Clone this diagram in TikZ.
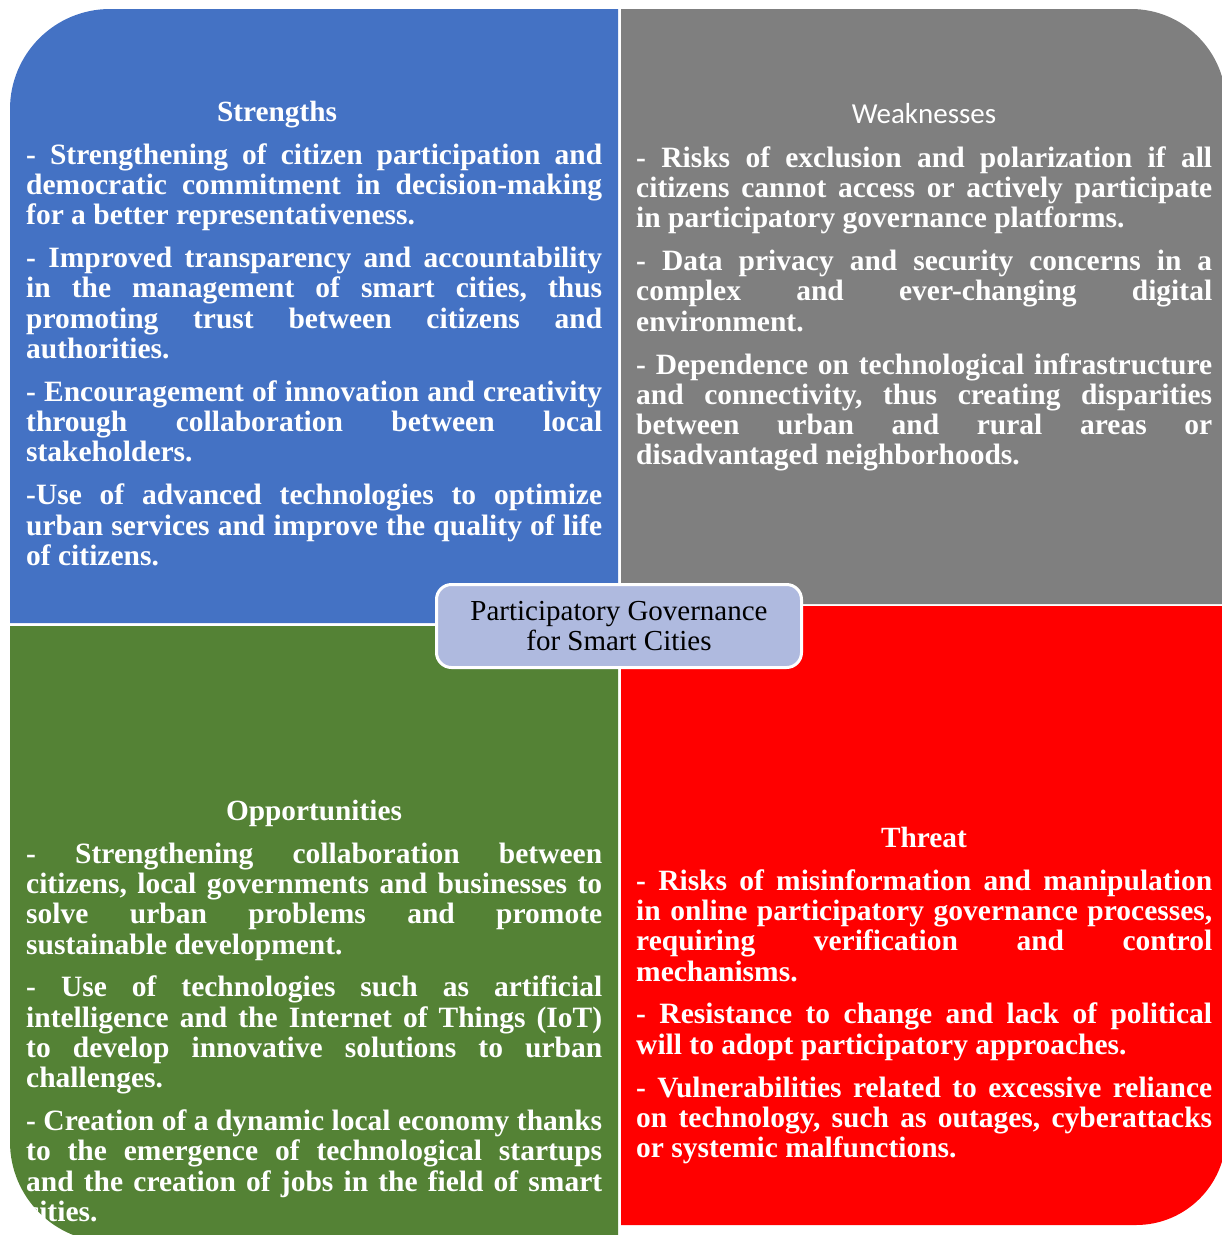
\documentclass[tikz,border=0pt]{standalone}
\usepackage{fontspec}
\setmainfont{Liberation Serif}
\newfontfamily\calfont{Carlito}
\definecolor{qblue}{HTML}{4472C4}
\definecolor{qgray}{HTML}{7F7F7F}
\definecolor{qred}{HTML}{FF0000}
\definecolor{qgreen}{HTML}{548235}
\definecolor{hubfill}{HTML}{AFBADF}
\newcommand\jline[1]{\hbox to 576pt{\strut #1}}
\newcommand\eline[1]{\hbox{\strut #1}}
\newcommand\pgap{\vskip12.5pt}
\tikzset{
  bodytext/.style={anchor=north west, inner sep=0pt, text=white,
    font=\fontsize{29.5}{30.3}\selectfont\bfseries\frenchspacing},
  titletext/.style={anchor=base, inner sep=0pt, text=white,
    font=\fontsize{29.3}{30.3}\selectfont\bfseries},
  hub/.style={draw=white, line width=3pt, fill=hubfill, rounded corners=15pt,
    minimum width=365pt, minimum height=83pt, inner sep=0pt, align=center,
    text=black, font=\fontsize{29}{30}\selectfont}
}
\begin{document}
\begin{tikzpicture}[x=1pt,y=1pt]
\useasboundingbox (0,0) rectangle (1222,-1235);
% quadrants
\fill[qblue] (10,-623) -- (10,-109) arc[start angle=180,end angle=90,radius=100] -- (618,-9) -- (618,-623) -- cycle;
\fill[qgray] (621,-604) -- (621,-9) -- (1131,-9) arc[start angle=90,end angle=0,radius=95] -- (1226,-604) -- cycle;
\fill[qred] (621,-606) -- (1226,-606) -- (1226,-1135) arc[start angle=0,end angle=-90,radius=90] -- (621,-1225) -- cycle;
\fill[qgreen] (10,-626) -- (618,-626) -- (618,-1242) -- (110,-1242) arc[start angle=270,end angle=180,radius=100] -- cycle;

% titles
\node[titletext] (stitle) at (277,-121) {Strengths};
\node[titletext, font=\fontsize{29}{30.3}\selectfont\calfont] (wtitle) at (924,-123) {Weaknesses};
\node[titletext] (otitle) at (314,-820) {Opportunities};
\node[titletext] (ttitle) at (924,-847) {Threat};

% strengths
\node[bodytext] (stext) at (26,-142.8) {\vbox{%
\jline{- Strengthening of citizen participation and}
\jline{democratic commitment in decision-making}
\eline{for a better representativeness.}
\pgap
\jline{- Improved transparency and accountability}
\jline{in the management of smart cities, thus}
\jline{promoting trust between citizens and}
\eline{authorities.}
\pgap
\jline{- Encouragement of innovation and creativity}
\jline{through collaboration between local}
\eline{stakeholders.}
\pgap
\jline{-Use of advanced technologies to optimize}
\jline{urban services and improve the quality of life}
\eline{of citizens.}}};

% weaknesses
\node[bodytext] (wtext) at (636,-145.8) {\vbox{%
\jline{- Risks of exclusion and polarization if all}
\jline{citizens cannot access or actively participate}
\eline{in participatory governance platforms.}
\pgap
\jline{- Data privacy and security concerns in a}
\jline{complex and ever-changing digital}
\eline{environment.}
\pgap
\jline{- Dependence on technological infrastructure}
\jline{and connectivity, thus creating disparities}
\jline{between urban and rural areas or}
\eline{disadvantaged neighborhoods.}}};

% opportunities
\node[bodytext] (otext) at (26,-841.8) {\vbox{%
\jline{- Strengthening collaboration between}
\jline{citizens, local governments and businesses to}
\jline{solve urban problems and promote}
\eline{sustainable development.}
\pgap
\jline{- Use of technologies such as artificial}
\jline{intelligence and the Internet of Things (IoT)}
\jline{to develop innovative solutions to urban}
\eline{challenges.}
\pgap
\jline{- Creation of a dynamic local economy thanks}
\jline{to the emergence of technological startups}
\jline{and the creation of jobs in the field of smart}
\eline{cities.}}};

% threat
\node[bodytext] (ttext) at (636,-868.8) {\vbox{%
\jline{- Risks of misinformation and manipulation}
\jline{in online participatory governance processes,}
\jline{requiring verification and control}
\eline{mechanisms.}
\pgap
\jline{- Resistance to change and lack of political}
\eline{will to adopt participatory approaches.}
\pgap
\jline{- Vulnerabilities related to excessive reliance}
\jline{on technology, such as outages, cyberattacks}
\eline{or systemic malfunctions.}}};

% hub
\node[hub] (hub) at (619,-626) {Participatory Governance\\for Smart Cities};
\end{tikzpicture}
\end{document}
